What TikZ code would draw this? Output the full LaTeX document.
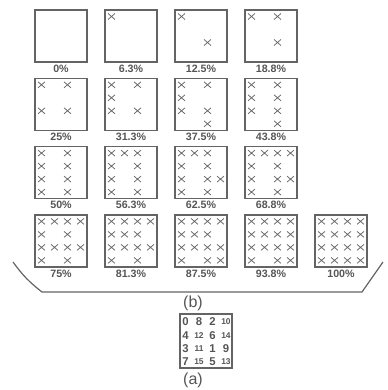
\documentclass[tikz,border=0pt]{standalone}
\usepackage{fontspec}
\setsansfont{Liberation Sans}
\definecolor{ink}{RGB}{100,100,100}
\definecolor{inkdark}{RGB}{85,85,85}
\tikzset{
  cellbox/.style={draw=ink, line width=0.9pt, minimum size=39pt, inner sep=0pt},
  pctlab/.style={text=inkdark, font=\sffamily\bfseries\fontsize{8}{9}\selectfont, inner sep=0pt},
  xmark/.style={draw=ink, line width=0.55pt},
  bigdig/.style={text=inkdark, font=\sffamily\bfseries\fontsize{8.5}{9}\selectfont, inner sep=0pt},
  smalldig/.style={text=inkdark, font=\sffamily\bfseries\fontsize{6.3}{7}\selectfont, inner sep=0pt},
  caption/.style={text=inkdark, font=\sffamily\fontsize{12}{14}\selectfont, inner sep=0pt},
  bracket/.style={draw=ink, line width=0.9pt}
}
\begin{document}
\begin{tikzpicture}[x=0.75pt,y=-0.75pt]
\useasboundingbox (0,0) rectangle (387,390);
\foreach \k/\lab in {0/0\%,1/6.3\%,2/12.5\%,3/18.8\%,4/25\%,5/31.3\%,6/37.5\%,7/43.8\%,8/50\%,9/56.3\%,10/62.5\%,11/68.8\%,12/75\%,13/81.3\%,14/87.5\%,15/93.8\%,16/100\%}{
  \pgfmathtruncatemacro\row{\k<16 ? int(\k/4) : 3}
  \pgfmathtruncatemacro\col{\k<16 ? mod(\k,4) : 4}
  \pgfmathsetmacro\bx{35+70*\col}
  \pgfmathsetmacro\by{10+68.3*\row}
  \node[cellbox] (b\k) at (\bx+26,\by+26) {};
  \node[pctlab] (l\k) at (\bx+26,\by+58.5) {\lab};
  \foreach \i in {0,...,15}{
    \pgfmathtruncatemacro\v{{0,8,2,10,4,12,6,14,3,11,1,9,7,15,5,13}[\i]}
    \ifnum\v<\k
      \pgfmathsetmacro\cx{\bx+6.5+13*mod(\i,4)}
      \pgfmathsetmacro\cy{\by+6.5+13*int(\i/4)}
      \draw[xmark] (\cx-3.5,\cy-3) -- (\cx+3.5,\cy+3) (\cx-3.5,\cy+3) -- (\cx+3.5,\cy-3);
    \fi
  }
}
% bracket
\coordinate (bl) at (13,262);
\coordinate (bll) at (42,292);
\coordinate (brr) at (362,292);
\coordinate (br) at (383,262);
\draw[bracket] (bl) to[bend right=8] (bll) -- (brr) -- (br);
\node[caption] (capb) at (193,303) {(b)};
% matrix
\node[draw=ink, line width=0.9pt, minimum width=39pt, minimum height=40.5pt, inner sep=0pt] (mat) at (206,341) {};
\foreach \r/\a/\b/\c/\d in {0/0/8/2/10,1/4/12/6/14,2/3/11/1/9,3/7/15/5/13}{
  \pgfmathsetmacro\yy{322+13.3*\r}
  \foreach \cc/\val in {0/\a,1/\b,2/\c,3/\d}{
    \pgfmathsetmacro\xx{185.5+13.5*\cc}
    \ifnum\val>9
      \node[smalldig] (m\r\cc) at (\xx,\yy) {\val};
    \else
      \node[bigdig] (m\r\cc) at (\xx,\yy) {\val};
    \fi
  }
}
\node[caption] (capa) at (193,380) {(a)};
\end{tikzpicture}
\end{document}
